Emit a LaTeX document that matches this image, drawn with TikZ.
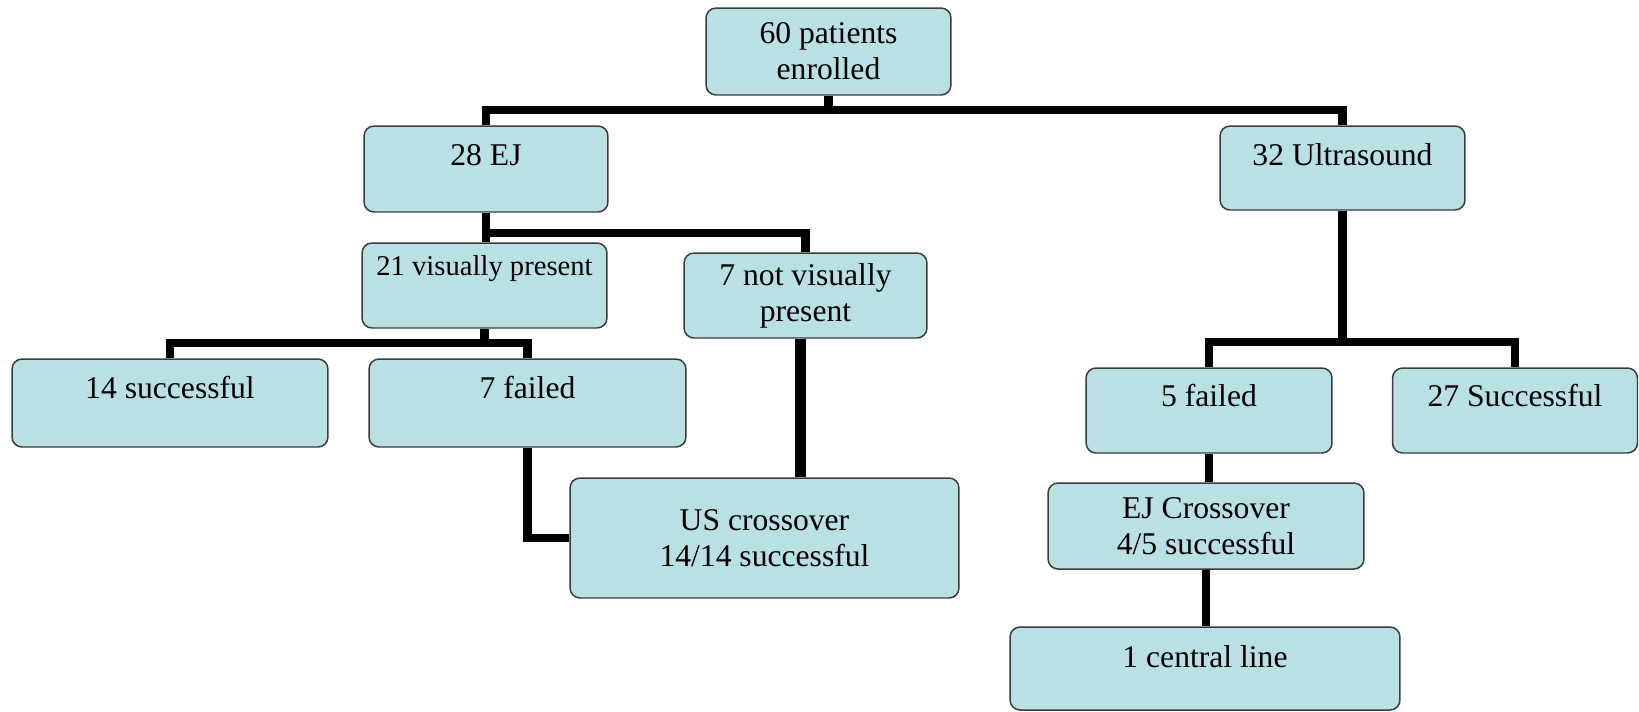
\documentclass[tikz,border=0pt]{standalone}
\usepackage{fontspec}
\setmainfont{Liberation Serif}
\usetikzlibrary{arrows,shapes}
\definecolor{boxfill}{RGB}{185,224,227}
\definecolor{boxline}{RGB}{60,60,60}

\begin{document}
\begin{tikzpicture}[x=0.02cm,y=-0.02cm]
      \tikzstyle{box}=[rectangle,rounded corners=0.2cm,draw=boxline,line width=0.85pt,fill=boxfill,inner sep=0pt,align=center,font=\fontsize{18}{20.5}\selectfont]
      \tikzstyle{topbox}=[box,text height=0.78cm,text depth=0.94cm]
      \tikzstyle{link}=[line width=0.17cm,line join=miter]

      \useasboundingbox (0,0) rectangle (1639,711);

      \coordinate (bar1) at (0,110);
      \coordinate (bar2) at (0,233);
      \coordinate (bar3) at (0,343);
      \coordinate (bar4) at (0,342);

      \begin{scope}
        \node[box,minimum width=4.9cm,minimum height=1.74cm](pat) at (828.5,51.5){60 patients\\enrolled};

        \node[topbox,minimum width=4.88cm](ej) at (486,169){28 EJ};
        \node[topbox,minimum width=4.9cm,text depth=0.9cm](us) at (1342.5,168){32 Ultrasound};
      \end{scope}

      \begin{scope}
        \node[topbox,minimum width=4.9cm,text height=0.64cm,text depth=1.06cm,font=\fontsize{16.3}{19}\selectfont](vis) at (484.5,285.5){21 visually present};
        \node[box,minimum width=4.86cm,minimum height=1.7cm](notvis) at (805.5,295.5){7 not visually\\present};

        \node[topbox,minimum width=6.32cm,text depth=0.98cm](succ14) at (170,403){14 successful};
        \node[topbox,minimum width=6.34cm,text depth=0.98cm](fail7) at (527.5,403){7 failed};

        \node[box,minimum width=7.78cm,minimum height=2.4cm](usx) at (764.5,538){US crossover\\14/14 successful};
      \end{scope}

      \begin{scope}
        \node[topbox,minimum width=4.92cm,text height=0.76cm](fail5) at (1209,410.5){5 failed};
        \node[topbox,minimum width=4.9cm,text height=0.76cm](succ27) at (1515,410.5){27 Successful};

        \node[box,minimum width=6.32cm,minimum height=1.72cm](ejx) at (1206,526){EJ Crossover\\4/5 successful};
        \node[topbox,minimum width=7.8cm,text height=0.8cm,text depth=0.86cm](central) at (1205,668.5){1 central line};
      \end{scope}

      \draw[link] (pat.south) -- (pat.south |- bar1);
      \draw[link] (ej.north) -- (ej.north |- bar1) -| (us.north);

      \draw[link] (ej.south) -- (ej.south |- vis.north);
      \draw[link] (ej.south |- bar2) -| (notvis.north);

      \draw[link] (vis.south) -- (vis.south |- bar3);
      \draw[link] (succ14.north) -- (succ14.north |- bar3) -| (fail7.north);

      \draw[link] (fail7.south) |- (usx.west);
      \draw[link,line width=0.22cm] ([xshift=-0.1cm]notvis.south) -- ([xshift=-0.1cm]notvis.south |- usx.north);

      \draw[link] (us.south) -- (us.south |- bar4);
      \draw[link] (fail5.north) -- (fail5.north |- bar4) -| (succ27.north);

      \draw[link] (fail5.south) -- (fail5.south |- ejx.north);
      \draw[link] (ejx.south) -- (ejx.south |- central.north);
    \end{tikzpicture}
\end{document}
